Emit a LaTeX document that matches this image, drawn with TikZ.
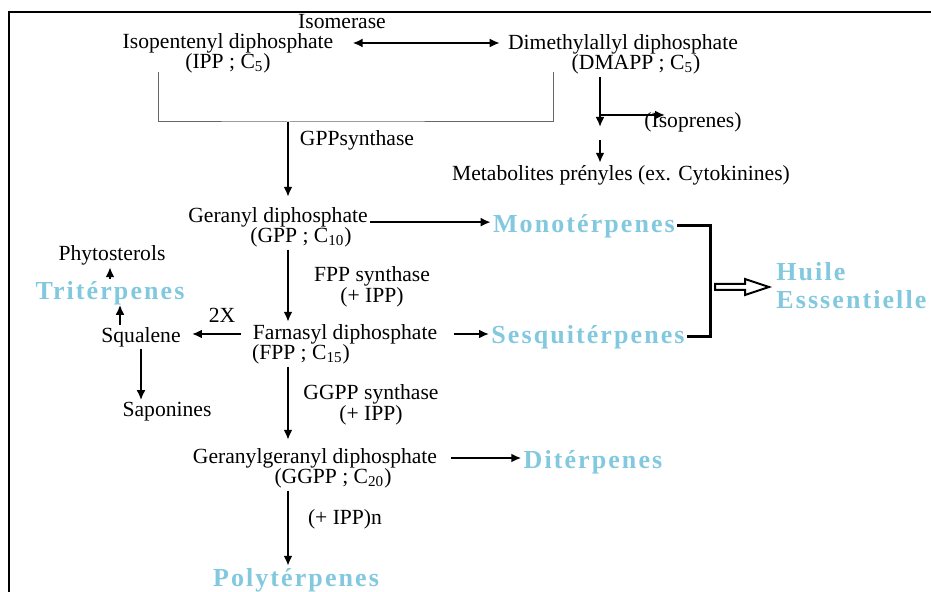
\documentclass[tikz,border=0pt]{standalone}
\usepackage{fontspec}
\setmainfont{Liberation Serif}
\newfontfamily\terpfont[LetterSpace=8]{Liberation Serif}
\usepackage{tikz}
\usetikzlibrary{positioning,arrows.meta,calc}
\definecolor{terpblue}{RGB}{130,200,222}

\begin{document}
\begin{tikzpicture}[x=0.5pt,y=-0.5pt,
  every node/.style={inner sep=1pt,font=\fontsize{10.8}{10.5}\selectfont},
  terp/.style={font=\terpfont\bfseries\fontsize{13}{14}\selectfont,text=terpblue},
  >={Latex[length=5pt,width=4.5pt]},
  flow/.style={->,line width=1pt},
  bar/.style={line width=0.5pt,draw=black!60}]

  \useasboundingbox (0,0) rectangle (931,592);
  \draw[line width=1pt] (9,592) -- (9,12) -- (931,12);

  \node (isom) at (342,22) {Isomerase};
  \node (ipp) at (228,43) {Isopentenyl diphosphate};
  \node (ippf) [below=-2pt of ipp] {(IPP ; C\textsubscript{5})};
  \node (dmapp) at (623,44) {Dimethylallyl diphosphate};
  \node (dmappf) [below=-2pt of dmapp, xshift=6.5pt] {(DMAPP ; C\textsubscript{5})};
  \node (isopr) at (693,122) {(Isoprenes)};
  \node (meta) at (621,175) {Metabolites prényles (ex. Cytokinines)};
  \node (gppsy) at (357,140) {GPPsynthase};

  \node (gpp) at (278,217) {Geranyl diphosphate};
  \node (gppf) [below=-2pt of gpp, xshift=11.5pt] {(GPP ; C\textsubscript{10})};
  \node (mono) [terp] at (584,226) {Monotérpenes};
  \node (fpps) [align=center] at (372,287) {FPP synthase\\(+ IPP)};

  \node (fpp) at (345,334) {Farnasyl diphosphate};
  \node (fppf) [below=-2pt of fpp, xshift=-22pt] {(FPP ; C\textsubscript{15})};
  \node (sesq) [terp] at (588,337) {Sesquitérpenes};
  \node (huile) [terp, align=left, anchor=west] at (774,286) {Huile\\Esssentielle};

  \node (two) at (222,315) {2X};
  \node (squal) at (141,337) {Squalene};
  \node (tri) [terp] at (110,293) {Tritérpenes};
  \node (phyto) at (112,255) {Phytosterols};
  \node (sapo) at (167,412) {Saponines};

  \node (ggpps) [align=center] at (371,405) {GGPP synthase\\(+ IPP)};
  \node (ggpp) at (315,458) {Geranylgeranyl diphosphate};
  \node (ggppf) [below=-2pt of ggpp, xshift=9pt] {(GGPP ; C\textsubscript{20})};
  \node (dit) [terp] at (593,462) {Ditérpenes};
  \node (ippn) at (345,519) {(+ IPP)n};
  \node (poly) [terp] at (296,580) {Polytérpenes};

  \coordinate (bl) at (158,72);
  \coordinate (br) at (553,72);
  \coordinate (junc) at (288,122);
  \coordinate (brn) at (600,115);
  \coordinate (bk) at (710,287);

  \draw[<->, line width=0.9pt, shorten <=8.5pt, shorten >=3pt] (ipp.east) -- (dmapp.west |- ipp.east);
  \draw[bar] (bl) |- (junc) -| (br);
  \draw[flow, shorten >=4pt] (junc) -- (gpp.north -| junc);
  \draw[flow] (dmappf.south -| brn) -- ([yshift=-6pt]brn);
  \draw[flow] (brn) -- ++(65,0);
  \draw[flow] ([yshift=-12.5pt]brn) -- (meta.north -| brn);

  \draw[flow] (gpp.base east) -- (mono.west |- gpp.base east);
  \draw[flow] (gppf.south -| junc) -- (fpp.north -| junc);
  \draw[flow, shorten <=5pt, shorten >=4.5pt] (fpp.west) -- (squal.east |- fpp.west);
  \draw[flow, shorten <=7.5pt] (fpp.east) -- (sesq.west |- fpp.east);
  \draw[line width=1.5pt] (mono.east) -| (bk) |- (sesq.east);
  \draw[line width=1pt, line join=miter] ($(bk)+(5,-3)$) -- ++(30,0) -- ++(0,-5) -- ++(24,8) -- ++(-24,8) -- ++(0,-5) -- ++(-30,0) -- cycle;

  \draw[flow] ([xshift=-10.5pt]squal.north) -- ++(0,-20);
  \draw[flow] (tri.north) -- (phyto.south -| tri.north);
  \draw[flow] (squal.south) -- (sapo.north -| squal.south);

  \draw[flow, shorten >=3pt] (fppf.south -| junc) -- (ggpp.north -| junc);
  \draw[flow, shorten <=6pt] (ggpp.east) -- (dit.west |- ggpp.east);
  \draw[flow] (ggppf.south -| junc) -- (poly.north -| junc);

\end{tikzpicture}
\end{document}
